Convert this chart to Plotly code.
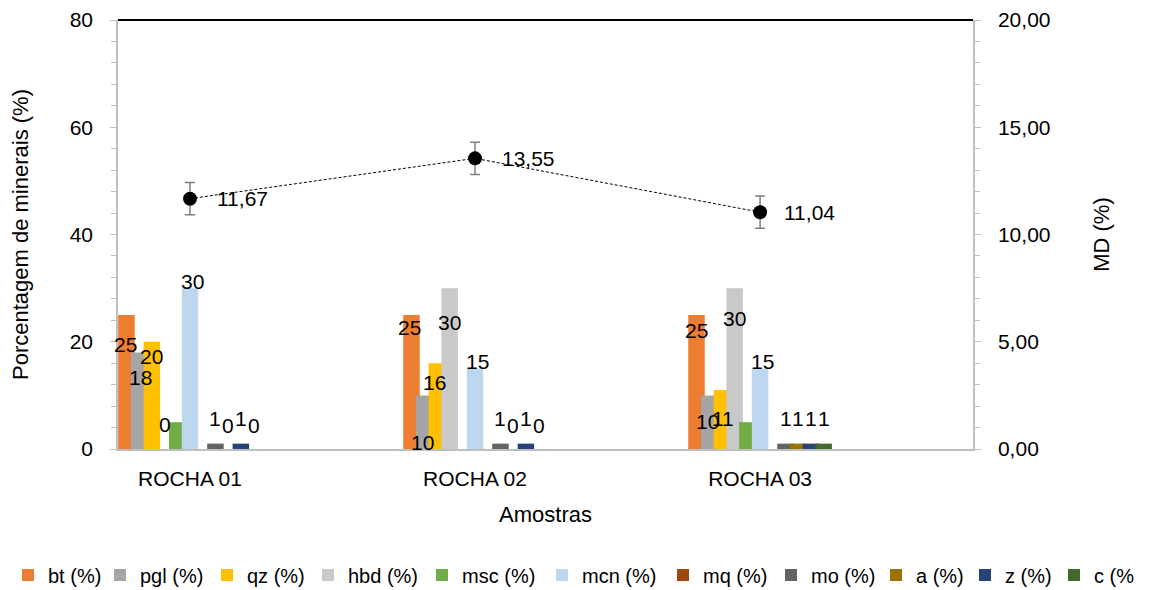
import plotly.graph_objects as go

# ---------------- data ----------------
categories = ["ROCHA 01", "ROCHA 02", "ROCHA 03"]
series_names = ["bt (%)", "pgl (%)", "qz (%)", "hbd (%)", "msc (%)", "mcn (%)",
                "mq (%)", "mo (%)", "a (%)", "z (%)", "c (%"]
bt = [25, 25, 25]
pgl = [18, 10, 10]
qz = [20, 16, 11]
hbd = [0, 30, 30]
msc = [5, 0, 5]
mcn = [30, 15, 15]
mq = [0, 0, 0]
mo = [1, 1, 1]
a = [0, 0, 1]
z = [1, 1, 1]
c = [0, 0, 1]
series_values = [bt, pgl, qz, hbd, msc, mcn, mq, mo, a, z, c]
md = [11.67, 13.55, 11.04]
md_err = [0.75, 0.75, 0.75]

# ---------------- style ----------------
colors = ["#ED7D31", "#A5A5A5", "#FFC000", "#C9C9C9", "#70AD47", "#BDD7EE",
          "#9E480E", "#636363", "#997300", "#264478", "#43682B"]
FONT = "Liberation Sans, Arial, sans-serif"
FS = 21
W, H = 1149, 582
STEP = 0.0446      # spacing between series inside a group (category units)
BW = 0.0579        # bar width (category units)
legend_text_px = [47, 140, 247, 348, 462, 582, 703, 811, 916, 1005, 1094]

# which series show data labels, and per-label (dx px, dy px) tweaks
label_series = {0, 1, 2, 3, 5, 7, 8, 9, 10}
label_shift = {
    (0, 0): (-1, -30), (1, 0): (1, -25), (2, 0): (0, -15), (3, 0): (0, 25),
    (5, 0): (2, 7), (7, 0): (0, 25), (8, 0): (0, 24), (9, 0): (0, 25), (10, 0): (0, 24),
    (0, 1): (-2, -13), (1, 1): (-2, -47), (2, 1): (-2, -19), (3, 1): (0, -34),
    (5, 1): (2, 7), (7, 1): (0, 25), (8, 1): (0, 24), (9, 1): (0, 25), (10, 1): (0, 24),
    (0, 2): (0, -16), (1, 2): (-2, -26), (2, 2): (1, -28), (3, 2): (0, -30),
    (5, 2): (2, 7), (7, 2): (0, 25), (8, 2): (0, 25), (9, 2): (0, 25), (10, 2): (0, 25),
}
md_label_dx = [25, 25, 22]

xs = list(range(len(categories)))
fig = go.Figure()
annotations = []
legends = {}
for i, (name, vals, col) in enumerate(zip(series_names, series_values, colors)):
    center = (i - 5) * STEP
    lg = "legend" if i == 0 else f"legend{i + 1}"
    fig.add_trace(go.Bar(
        x=xs, y=vals, name=name, marker=dict(color=col, line=dict(width=0)),
        width=BW, offset=center - BW / 2, yaxis="y", legend=lg,
    ))
    legends[lg] = dict(
        orientation="h", xref="container", yref="container",
        x=(legend_text_px[i] - 40 - 8) / W, xanchor="left",
        y=1 - (575 - 8) / H, yanchor="middle",
        font=dict(family=FONT, size=20, color="#000000"),
        itemwidth=30, bgcolor="rgba(0,0,0,0)", borderwidth=0,
    )
    if i in label_series:
        for j, v in enumerate(vals):
            dx, dy = label_shift.get((i, j), (0, 0))
            annotations.append(dict(
                x=xs[j] + center, y=v, xref="x", yref="y", text=str(v),
                showarrow=False, xanchor="center", yanchor="middle",
                xshift=dx, yshift=dy, font=dict(family=FONT, size=FS, color="#000000"),
            ))

fig.add_trace(go.Scatter(
    x=xs, y=md, yaxis="y2", mode="lines+markers", showlegend=False,
    line=dict(color="#000000", width=1, dash="3px,2px"),
    marker=dict(color="#000000", size=14),
    error_y=dict(type="data", array=md_err, color="#7F7F7F", thickness=1.5, width=5),
))
for j, v in enumerate(md):
    annotations.append(dict(
        x=xs[j], y=v, xref="x", yref="y2", text=f"{v:.2f}".replace(".", ","),
        showarrow=False, xanchor="left", yanchor="middle", xshift=md_label_dx[j],
        font=dict(family=FONT, size=FS, color="#000000"),
    ))

fig.update_layout(
    width=W, height=H,
    margin=dict(l=110, r=184, t=12, b=141, autoexpand=False),
    paper_bgcolor="white", plot_bgcolor="white",
    barmode="overlay",
    separators=",.",
    font=dict(family=FONT, size=FS, color="#000000"),
    annotations=annotations,
    showlegend=True,
    xaxis=dict(
        tickmode="array", tickvals=xs, ticktext=categories, tickangle=0,
        range=[-0.2526, 2.747], showline=True, linecolor="#BFBFBF", linewidth=1.5,
        ticks="", showgrid=False, zeroline=False, ticklabelstandoff=10,
        tickfont=dict(family=FONT, size=FS, color="#000000"),
        title=dict(text="Amostras", standoff=18, font=dict(family=FONT, size=22, color="#000000")),
    ),
    yaxis=dict(
        range=[0, 80], dtick=20, showline=True, linecolor="#BFBFBF", linewidth=1.5,
        ticks="outside", ticklen=6, tickcolor="#BFBFBF", ticklabelstandoff=13,
        minor=dict(ticks="outside", ticklen=5, dtick=4, tickcolor="#BFBFBF"),
        showgrid=False, zeroline=False,
        tickfont=dict(family=FONT, size=FS, color="#000000"),
        title=dict(text="Porcentagem de minerais (%)", standoff=35,
                   font=dict(family=FONT, size=22, color="#000000")),
    ),
    yaxis2=dict(
        range=[0, 20], dtick=5, tickformat=".2f", overlaying="y", side="right",
        showline=True, linecolor="#BFBFBF", linewidth=1.5, ticklabelstandoff=13,
        ticks="outside", ticklen=6, tickcolor="#BFBFBF",
        minor=dict(ticks="outside", ticklen=5, dtick=1, tickcolor="#BFBFBF"),
        showgrid=False, zeroline=False,
        tickfont=dict(family=FONT, size=FS, color="#000000"),
        title=dict(text="MD (%)", standoff=44, font=dict(family=FONT, size=22, color="#000000")),
    ),
    shapes=[dict(type="line", xref="paper", yref="paper", x0=0, x1=1, y0=1, y1=1,
                 line=dict(color="#000000", width=2))],
    **legends,
)

fig.write_html("out.html")
